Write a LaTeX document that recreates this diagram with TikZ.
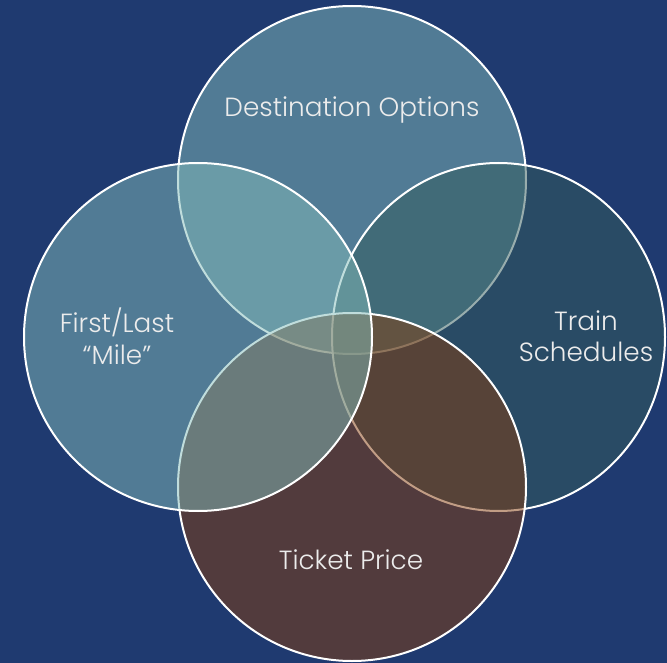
\documentclass[tikz,border=0pt]{standalone}
\usepackage{fontspec}
\setmainfont{Poppins Light}
\definecolor{bgc}{RGB}{31,58,112}
\definecolor{tealc}{RGB}{131,188,186}
\definecolor{darktealc}{RGB}{51,92,92}
\definecolor{brownc}{RGB}{133,60,12}
\definecolor{txtc}{RGB}{236,236,236}
\tikzset{
  venn/.style={draw=white, line width=2pt, fill opacity=0.5},
  lbl/.style={text=txtc, font=\fontsize{26.3}{31.5}\selectfont, align=center, inner sep=0pt}
}
\begin{document}
\begin{tikzpicture}[x=1pt,y=-1pt]
\fill[bgc] (0,0) rectangle (667,663);
\useasboundingbox (0,0) rectangle (667,663);
\path[venn, fill=tealc] (352,180) circle[radius=174];
\path[venn, fill=darktealc] (498.5,337) ellipse[x radius=166.5, y radius=174];
\path[venn, fill=brownc] (352,487) circle[radius=174];
\path[venn, fill=tealc] (198,337) circle[radius=174];
\node[lbl, anchor=base] (dest) at (352,117) {Destination Options};
\node[lbl] (first) at (117,336) {First/Last\\“Mile”};
\node[lbl] (train) at (586,336) {Train\\Schedules};
\node[lbl, anchor=base] (ticket) at (351,569) {Ticket Price};
\end{tikzpicture}
\end{document}
